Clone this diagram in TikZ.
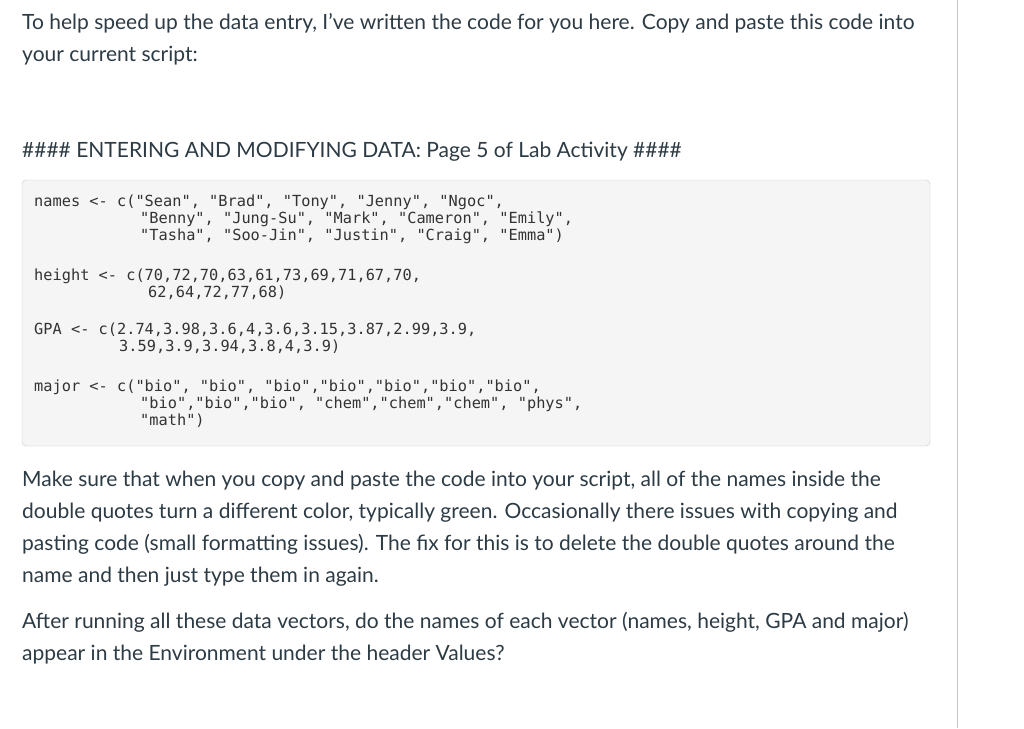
\documentclass[tikz,border=0pt]{standalone}
\usepackage{fontspec}
\setmainfont{Lato}
\setmonofont{DejaVu Sans Mono}
\definecolor{txt}{HTML}{2D3B45}
\definecolor{codetxt}{HTML}{333333}
\definecolor{codebg}{HTML}{F5F5F5}
\definecolor{codebd}{HTML}{C8C8C8}
\begin{document}
\begin{tikzpicture}[x=1pt,y=1pt,
  body/.style={anchor=base west,inner sep=0,text=txt,font=\fontsize{21}{24}\selectfont},
  code/.style={anchor=base west,inner sep=0,text=codetxt,font=\ttfamily\fontsize{15.3}{17}\selectfont}]
\useasboundingbox (0,0) rectangle (1024,-728);
\fill[white] (0,0) rectangle (1024,-728);
\draw[codebd] (957,0) -- (957,-728);
\node[body] (t1) at (22,-29) {To help speed up the data entry, I've written the code for you here. Copy and paste this code into};
\node[body] (t2) at (22,-61) {your current script:};
\node[body] (h) at (22,-157) {\#\#\#\# ENTERING AND MODIFYING DATA: Page 5 of Lab Activity \#\#\#\#};
\draw[codebd,fill=codebg,rounded corners=4] (22,-180) rectangle (930,-446);
\node[code] (c1) at (34,-206) {names <- c("Sean", "Brad", "Tony", "Jenny", "Ngoc",};
\node[code] (c2) at (140,-223) {"Benny", "Jung-Su", "Mark", "Cameron", "Emily",};
\node[code] (c3) at (140,-240) {"Tasha", "Soo-Jin", "Justin", "Craig", "Emma")};
\node[code] (c4) at (34,-280) {height <- c(70,72,70,63,61,73,69,71,67,70,};
\node[code] (c5) at (148,-297) {62,64,72,77,68)};
\node[code] (c6) at (34,-334) {GPA <- c(2.74,3.98,3.6,4,3.6,3.15,3.87,2.99,3.9,};
\node[code] (c7) at (119,-351) {3.59,3.9,3.94,3.8,4,3.9)};
\node[code] (c8) at (34,-391) {major <- c("bio", "bio", "bio","bio","bio","bio","bio",};
\node[code] (c9) at (140,-408) {"bio","bio","bio", "chem","chem","chem", "phys",};
\node[code] (c10) at (140,-425) {"math")};
\node[body] (p1) at (22,-486) {Make sure that when you copy and paste the code into your script, all of the names inside the};
\node[body] (p2) at (22,-518) {double quotes turn a different color, typically green. Occasionally there issues with copying and};
\node[body] (p3) at (22,-550) {pasting code (small formatting issues). The fix for this is to delete the double quotes around the};
\node[body] (p4) at (22,-582) {name and then just type them in again.};
\node[body] (q1) at (22,-628) {After running all these data vectors, do the names of each vector (names, height, GPA and major)};
\node[body] (q2) at (22,-660) {appear in the Environment under the header Values?};
\end{tikzpicture}
\end{document}
